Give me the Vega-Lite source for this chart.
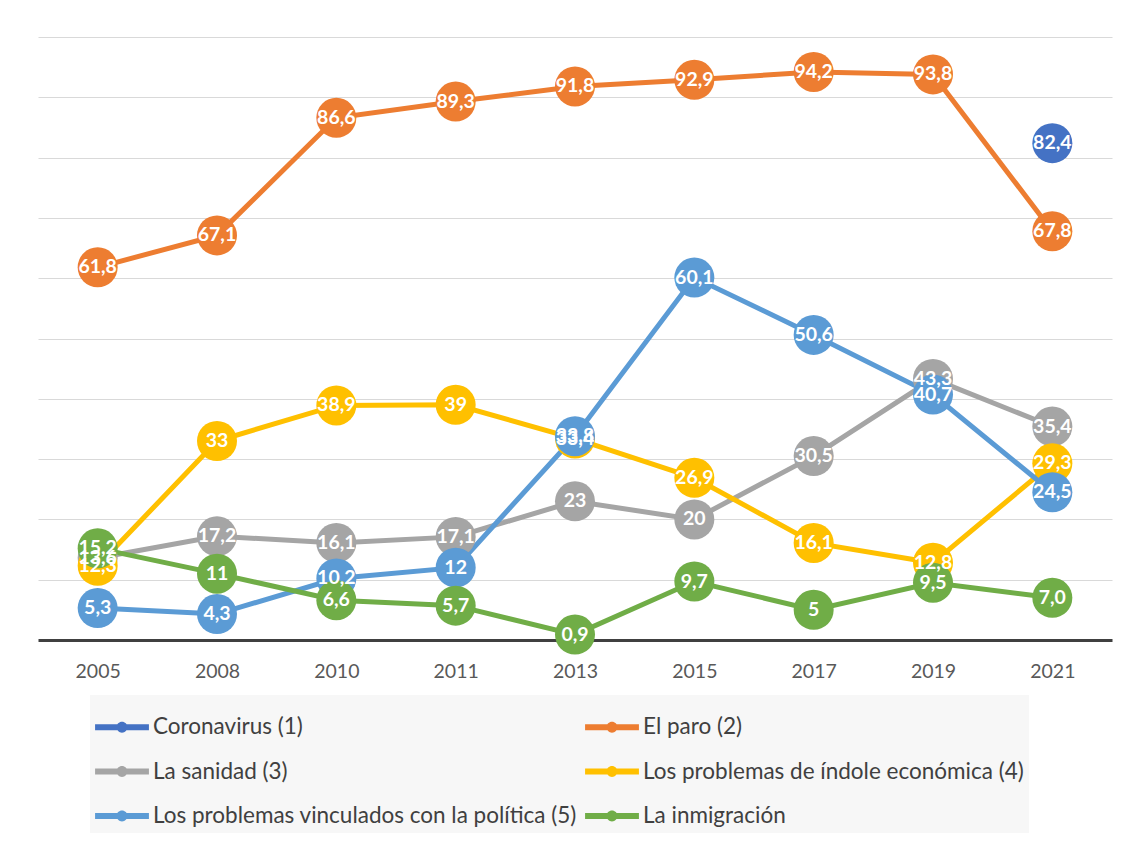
{
  "$schema": "https://vega.github.io/schema/vega-lite/v6.json",
  "width": 1074,
  "height": 603,
  "autosize": {"type": "none"},
  "padding": {"left": 38, "top": 37, "right": 22, "bottom": 206},
  "background": "white",
  "config": {"view": {"stroke": null}},
  "data": {"values": [
    {"series": "Coronavirus (1)", "year": "2021", "value": 82.4, "label": "82,4"},
    {"series": "El paro (2)", "year": "2005", "value": 61.8, "label": "61,8"},
    {"series": "El paro (2)", "year": "2008", "value": 67.1, "label": "67,1"},
    {"series": "El paro (2)", "year": "2010", "value": 86.6, "label": "86,6"},
    {"series": "El paro (2)", "year": "2011", "value": 89.3, "label": "89,3"},
    {"series": "El paro (2)", "year": "2013", "value": 91.8, "label": "91,8"},
    {"series": "El paro (2)", "year": "2015", "value": 92.9, "label": "92,9"},
    {"series": "El paro (2)", "year": "2017", "value": 94.2, "label": "94,2"},
    {"series": "El paro (2)", "year": "2019", "value": 93.8, "label": "93,8"},
    {"series": "El paro (2)", "year": "2021", "value": 67.8, "label": "67,8"},
    {"series": "La sanidad (3)", "year": "2005", "value": 13.6, "label": "13,6"},
    {"series": "La sanidad (3)", "year": "2008", "value": 17.2, "label": "17,2"},
    {"series": "La sanidad (3)", "year": "2010", "value": 16.1, "label": "16,1"},
    {"series": "La sanidad (3)", "year": "2011", "value": 17.1, "label": "17,1"},
    {"series": "La sanidad (3)", "year": "2013", "value": 23, "label": "23"},
    {"series": "La sanidad (3)", "year": "2015", "value": 20, "label": "20"},
    {"series": "La sanidad (3)", "year": "2017", "value": 30.5, "label": "30,5"},
    {"series": "La sanidad (3)", "year": "2019", "value": 43.3, "label": "43,3"},
    {"series": "La sanidad (3)", "year": "2021", "value": 35.4, "label": "35,4"},
    {"series": "Los problemas de índole económica (4)", "year": "2005", "value": 12.3, "label": "12,3"},
    {"series": "Los problemas de índole económica (4)", "year": "2008", "value": 33, "label": "33"},
    {"series": "Los problemas de índole económica (4)", "year": "2010", "value": 38.9, "label": "38,9"},
    {"series": "Los problemas de índole económica (4)", "year": "2011", "value": 39, "label": "39"},
    {"series": "Los problemas de índole económica (4)", "year": "2013", "value": 33.4, "label": "33,4"},
    {"series": "Los problemas de índole económica (4)", "year": "2015", "value": 26.9, "label": "26,9"},
    {"series": "Los problemas de índole económica (4)", "year": "2017", "value": 16.1, "label": "16,1"},
    {"series": "Los problemas de índole económica (4)", "year": "2019", "value": 12.8, "label": "12,8"},
    {"series": "Los problemas de índole económica (4)", "year": "2021", "value": 29.3, "label": "29,3"},
    {"series": "Los problemas vinculados con la política (5)", "year": "2005", "value": 5.3, "label": "5,3"},
    {"series": "Los problemas vinculados con la política (5)", "year": "2008", "value": 4.3, "label": "4,3"},
    {"series": "Los problemas vinculados con la política (5)", "year": "2010", "value": 10.2, "label": "10,2"},
    {"series": "Los problemas vinculados con la política (5)", "year": "2011", "value": 12, "label": "12"},
    {"series": "Los problemas vinculados con la política (5)", "year": "2013", "value": 33.8, "label": "33,8"},
    {"series": "Los problemas vinculados con la política (5)", "year": "2015", "value": 60.1, "label": "60,1"},
    {"series": "Los problemas vinculados con la política (5)", "year": "2017", "value": 50.6, "label": "50,6"},
    {"series": "Los problemas vinculados con la política (5)", "year": "2019", "value": 40.7, "label": "40,7"},
    {"series": "Los problemas vinculados con la política (5)", "year": "2021", "value": 24.5, "label": "24,5"},
    {"series": "La inmigración", "year": "2005", "value": 15.2, "label": "15,2"},
    {"series": "La inmigración", "year": "2008", "value": 11, "label": "11"},
    {"series": "La inmigración", "year": "2010", "value": 6.6, "label": "6,6"},
    {"series": "La inmigración", "year": "2011", "value": 5.7, "label": "5,7"},
    {"series": "La inmigración", "year": "2013", "value": 0.9, "label": "0,9"},
    {"series": "La inmigración", "year": "2015", "value": 9.7, "label": "9,7"},
    {"series": "La inmigración", "year": "2017", "value": 5, "label": "5"},
    {"series": "La inmigración", "year": "2019", "value": 9.5, "label": "9,5"},
    {"series": "La inmigración", "year": "2021", "value": 7.0, "label": "7,0"}
  ]},
  "encoding": {
    "x": {
      "field": "year", "type": "ordinal",
      "sort": ["2005", "2008", "2010", "2011", "2013", "2015", "2017", "2019", "2021"],
      "scale": {"type": "point", "padding": 0.5},
      "axis": {"title": null, "labelAngle": 0, "ticks": false, "domainColor": "#404040", "domainWidth": 3, "labelFont": "Lato", "labelFontSize": 19.5, "labelColor": "#595959", "labelPadding": 22, "grid": false}
    },
    "y": {
      "field": "value", "type": "quantitative",
      "scale": {"domain": [0, 100], "nice": false},
      "axis": {"title": null, "labels": false, "ticks": false, "domain": false, "grid": true, "gridColor": "#d9d9d9", "gridWidth": 1, "values": [10, 20, 30, 40, 50, 60, 70, 80, 90, 100]}
    },
    "color": {
      "field": "series", "type": "nominal",
      "scale": {
        "domain": ["Coronavirus (1)", "La sanidad (3)", "Los problemas vinculados con la política (5)", "El paro (2)", "Los problemas de índole económica (4)", "La inmigración"],
        "range": ["#4472C4", "#A5A5A5", "#5B9BD5", "#ED7D31", "#FFC000", "#70AD47"]
      },
      "legend": {
        "orient": "none", "legendX": 52, "legendY": 658, "columns": 2, "title": null,
        "symbolType": "M-1,-0.11 L1,-0.11 L1,0.11 L-1,0.11 Z M-0.2,0 A0.2,0.2 0 1,1 0.2,0 A0.2,0.2 0 1,1 -0.2,0 Z",
        "symbolSize": 2900, "symbolStrokeWidth": 0, "symbolOpacity": 1,
        "labelFont": "Lato", "labelFontSize": 22.5, "labelColor": "#404040", "labelOffset": 4, "labelLimit": 600,
        "fillColor": "#f7f7f7", "padding": 5, "rowPadding": 5.5, "columnPadding": 8
      }
    }
  },
  "layer": [
    {
      "mark": {"type": "line", "strokeWidth": 5}
    },
    {
      "mark": {"type": "point", "filled": true, "opacity": 1, "size": 1600}
    },
    {
      "mark": {"type": "text", "color": "white", "font": "Lato", "fontWeight": "bold", "fontSize": 19.5},
      "encoding": {"text": {"field": "label", "type": "nominal"}, "color": {"value": "white"}}
    }
  ]
}
